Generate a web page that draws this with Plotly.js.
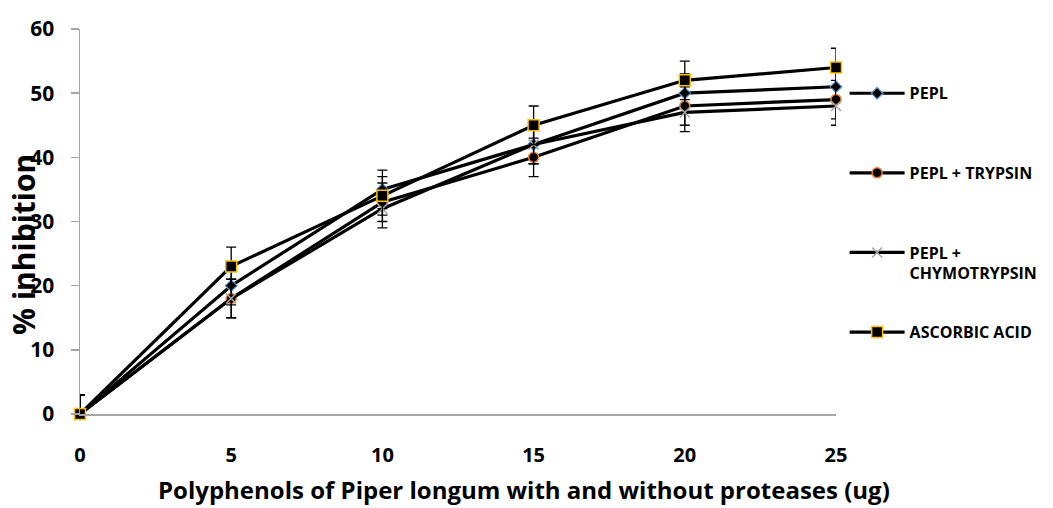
<!DOCTYPE html>
<html><head><meta charset="utf-8">
<script src="https://cdn.plot.ly/plotly-3.0.1.min.js"></script>
<style>html,body{margin:0;padding:0;background:#fff}</style>
</head><body>
<div id="chart" style="width:1053px;height:508px"></div>
<script>
const doses = [0, 5, 10, 15, 20, 25];
const pepl = [0, 20, 35, 42, 50, 51];
const peplTrypsin = [0, 18, 33, 40, 48, 49];
const peplChymo = [0, 18, 32, 42, 47, 48];
const ascorbic = [0, 23, 34, 45, 52, 54];
const errPlus = [3, 3, 3, 3, 3, 3];
const errMinus = [0, 3, 3, 3, 3, 3];
const seriesNames = ['PEPL<br>&nbsp;', 'PEPL + TRYPSIN<br>&nbsp;', 'PEPL +<br>CHYMOTRYPSIN', 'ASCORBIC ACID<br>&nbsp;'];
const yTicks = [0, 10, 20, 30, 40, 50, 60];
const xTicks = [0, 5, 10, 15, 20, 25];
const xTitle = 'Polyphenols of Piper longum with and without proteases (ug)';
const yTitle = '% inhibition';

const FONT = 'Open Sans, DejaVu Sans, sans-serif';
const markers = [
  {symbol: 'diamond', size: 9, color: '#000', line: {color: '#5B9BD5', width: 1.2}},
  {symbol: 'circle', size: 10, color: '#000', line: {color: '#ED7D31', width: 1.5}},
  {symbol: 'x-thin-open', size: 10, color: '#A5A5A5', line: {color: '#A5A5A5', width: 1.5}},
  {symbol: 'square', size: 11, color: '#000', line: {color: '#FFC000', width: 1.5}}
];
const data = [pepl, peplTrypsin, peplChymo, ascorbic].map((ys, i) => ({
  x: doses, y: ys, type: 'scatter', mode: 'lines+markers',
  name: seriesNames[i], legendgroup: 'g' + i,
  line: {color: '#000', width: 3.2},
  marker: markers[i],
  cliponaxis: false,
  error_y: {type: 'data', symmetric: false, array: errPlus, arrayminus: errMinus,
            color: '#000', thickness: 1.3, width: 5}
}));

const layout = {
  width: 1053, height: 508,
  margin: {l: 80, r: 217, t: 29, b: 94, autoexpand: false},
  paper_bgcolor: '#fff', plot_bgcolor: '#fff',
  font: {family: FONT, color: '#000'},
  showlegend: true,
  legend: {x: 1.0114, y: 0.877, xanchor: 'left', yanchor: 'top', itemwidth: 55,
           traceorder: 'grouped', tracegroupgap: 35, valign: 'top',
           font: {family: FONT, size: 16, color: '#000', weight: 'bold'}},
  xaxis: {range: [0, 25], tickvals: xTicks, ticktext: xTicks.map(String),
          showgrid: false, zeroline: false, showline: true, linecolor: '#A6A6A6', linewidth: 1.5,
          ticks: '', ticklabelstandoff: 22,
          tickfont: {family: FONT, size: 20, color: '#000', weight: 'bold'}},
  yaxis: {range: [0, 60], tickvals: yTicks, ticktext: yTicks.map(String),
          showgrid: false, zeroline: false, showline: true, linecolor: '#A6A6A6', linewidth: 1.5,
          ticks: 'outside', ticklen: 8, tickcolor: '#A6A6A6', tickwidth: 1.5, ticklabelstandoff: 12,
          tickfont: {family: FONT, size: 21, color: '#000', weight: 'bold'}},
  annotations: [
    {text: yTitle, xref: 'paper', yref: 'paper',
     x: -0.075, y: 0.44, xanchor: 'center', yanchor: 'middle', textangle: -90,
     showarrow: false, font: {family: FONT, size: 30, color: '#000', weight: 'bold'}},
    {text: xTitle, xref: 'paper', yref: 'paper',
     x: 0.587, y: -0.197, xanchor: 'center', yanchor: 'middle',
     showarrow: false, font: {family: FONT, size: 24, color: '#000', weight: 'bold'}}
  ]
};
Plotly.newPlot('chart', data, layout, {displayModeBar: false, staticPlot: true});
</script>
</body></html>
